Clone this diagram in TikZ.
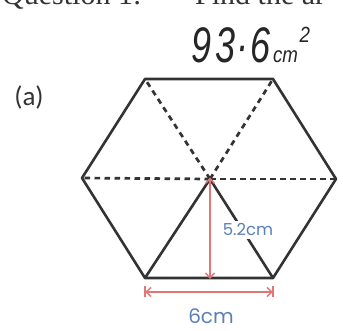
\documentclass[tikz,border=0pt]{standalone}
\usepackage{fontspec}
\setmainfont{Liberation Serif}
\newfontfamily\labfont{Poppins}
\newfontfamily\afont{Carlito}
\newfontfamily\handfont{Liberation Sans}
\usetikzlibrary{arrows.meta}
\definecolor{ink}{HTML}{333333}
\definecolor{dimred}{HTML}{E07676}
\definecolor{dimblue}{HTML}{5A80B8}
\begin{document}
\begin{tikzpicture}[x=1pt,y=-1pt,
  edge/.style={ink, line width=2.6pt, line join=round, line cap=round},
  dashline/.style={ink, line width=2.7pt, dash pattern=on 5.5pt off 4.5pt},
  redline/.style={dimred, line width=1.4pt},
  dimtip/.tip={Straight Barb[length=5pt,width=9pt]},
  lab/.style={text=dimblue, font=\labfont\fontsize{16.5}{16.5}\selectfont, inner sep=2pt}]
\useasboundingbox (0,0) rectangle (343,331);
\fill[white] (0,0) rectangle (343,331);
% header text (cut off at the top)
\node[anchor=base west, inner sep=0pt, font=\fontsize{30}{30}\selectfont, text=ink] (q) at (2,5) {Question 1:};
\node[anchor=base west, inner sep=0pt, font=\fontsize{30}{30}\selectfont, text=ink] (f) at (195,5) {Find the ar};
% handwritten answer
\node[anchor=base west, inner sep=0pt, text=black!85] (ans) at (191,63)
  {\scalebox{0.72}[1]{\handfont\itshape\fontsize{50}{50}\selectfont 9\kern6pt3\kern2pt·\kern2pt6}\scalebox{0.85}[1]{\handfont\itshape\fontsize{22}{22}\selectfont\kern3pt cm\kern2pt\raisebox{20pt}{2}}};
% part label
\node[anchor=center, inner sep=0pt, font=\afont\fontsize{27}{27}\selectfont, text=ink] (a) at (29,97) {(a)};
% hexagon
\coordinate (TL) at (145,79);
\coordinate (TR) at (273,79);
\coordinate (R) at (336,179);
\coordinate (BR) at (273,278);
\coordinate (BL) at (145,278);
\coordinate (L) at (82,178);
\coordinate (C) at (210,179);
\draw[dashline] (C) -- (TL);
\draw[dashline] (C) -- (TR);
\draw[dashline] (C) -- (L);
\draw[dashline] (C) -- (R);
\draw[edge] (C) -- (BL);
\draw[edge] (C) -- (BR);
\draw[edge] (TL) -- (TR) -- (R) -- (BR) -- (BL) -- (L) -- cycle;
% height
\node[lab, fill=white, inner sep=3pt] (h) at (248,230) {5.2cm};
\coordinate (Hb) at (C |- BL);
\draw[redline, dimtip-dimtip] ([yshift=1.5pt]C) -- ([yshift=-1pt]Hb);
% base dimension
\coordinate (D1) at (145,292);
\coordinate (D2) at (273,292);
\draw[redline, dimtip-dimtip] (D1) -- (D2);
\draw[redline] ([yshift=-5.5pt]D1) -- ([yshift=5.5pt]D1);
\draw[redline] ([yshift=-5.5pt]D2) -- ([yshift=5.5pt]D2);
\node[lab, font=\labfont\fontsize{20}{20}\selectfont] (b) at (211,316) {6cm};
\end{tikzpicture}
\end{document}
